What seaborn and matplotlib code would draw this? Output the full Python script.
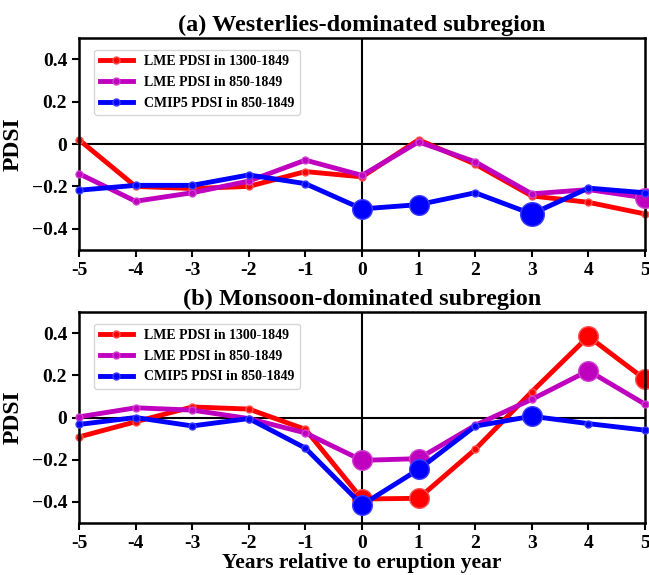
import matplotlib
matplotlib.use('Agg')

import numpy as np
import pandas as pd
import seaborn as sns
import matplotlib.pyplot as plt

# Years relative to eruption
years = [-5, -4, -3, -2, -1, 0, 1, 2, 3, 4, 5]
series_names = ["LME PDSI in 1300-1849", "LME PDSI in 850-1849", "CMIP5 PDSI in 850-1849"]

# (a) Westerlies-dominated subregion
west_lme1300 = [0.02, -0.20, -0.21, -0.20, -0.13, -0.155, 0.02, -0.095, -0.245, -0.275, -0.33]
west_lme850 = [-0.14, -0.27, -0.23, -0.175, -0.076, -0.148, 0.01, -0.084, -0.235, -0.215, -0.254]
west_cmip5 = [-0.218, -0.195, -0.195, -0.146, -0.187, -0.306, -0.286, -0.23, -0.33, -0.208, -0.23]
# significance level (0 = none, 1 = significant, 2 = highly significant)
west_sig_lme1300 = [0, 0, 0, 0, 0, 0, 0, 0, 0, 0, 0]
west_sig_lme850 = [0, 0, 0, 0, 0, 0, 0, 0, 0, 0, 1]
west_sig_cmip5 = [0, 0, 0, 0, 0, 1, 1, 0, 2, 0, 0]

# (b) Monsoon-dominated subregion
mons_lme1300 = [-0.092, -0.02, 0.05, 0.04, -0.056, -0.386, -0.383, -0.151, 0.122, 0.384, 0.181]
mons_lme850 = [0.003, 0.046, 0.035, -0.005, -0.073, -0.203, -0.195, -0.037, 0.086, 0.222, 0.063]
mons_cmip5 = [-0.033, 0.0, -0.04, -0.005, -0.145, -0.414, -0.246, -0.041, 0.006, -0.029, -0.06]
mons_sig_lme1300 = [0, 0, 0, 0, 0, 1, 1, 0, 0, 1, 1]
mons_sig_lme850 = [0, 0, 0, 0, 0, 1, 1, 0, 0, 1, 0]
mons_sig_cmip5 = [0, 0, 0, 0, 0, 1, 1, 0, 1, 0, 0]

colors = ['#ff0000', '#bf00bf', '#0000ff']
edge_colors = ['#ff5050', '#d040d0', '#3c3cff']

plt.rcParams['font.family'] = ['Liberation Serif', 'DejaVu Serif']
plt.rcParams['font.weight'] = 'bold'
plt.rcParams['axes.labelweight'] = 'bold'
plt.rcParams['axes.titleweight'] = 'bold'


def draw_panel(ax, values, sigs, title, show_xlabel):
    ax.axhline(0, color='black', lw=1.5, zorder=1)
    ax.axvline(0, color='black', lw=1.5, zorder=1)
    for i, (vals, sig) in enumerate(zip(values, sigs)):
        df = pd.DataFrame({'year': years, 'pdsi': vals, 'sig': sig})
        sns.lineplot(data=df, x='year', y='pdsi', ax=ax, color=colors[i], lw=3.5,
                     marker='o', markersize=5, markeredgecolor=edge_colors[i],
                     markeredgewidth=1, label=series_names[i], zorder=2 + i, clip_on=False)
        for level, size in [(1, 200), (2, 290)]:
            sub = df[df['sig'] == level]
            if len(sub):
                sns.scatterplot(data=sub, x='year', y='pdsi', ax=ax, color=colors[i],
                                s=size, edgecolor=edge_colors[i], linewidth=1,
                                zorder=2.5 + i, legend=False, clip_on=False)
    ax.set_xlim(-5, 5)
    ax.set_ylim(-0.5, 0.5)
    ax.set_xticks(years)
    ax.set_xticklabels([str(y) for y in years])
    ax.set_yticks([-0.4, -0.2, 0, 0.2, 0.4])
    ax.set_yticklabels(['\u22120.4', '\u22120.2', '0', '0.2', '0.4'])
    ax.tick_params(labelsize=14, width=1.5, length=5)
    for lab in ax.get_xticklabels() + ax.get_yticklabels():
        lab.set_fontweight('bold')
    for sp in ax.spines.values():
        sp.set_linewidth(1.8)
    ax.set_title(title, fontsize=17.5, fontweight='bold', pad=5)
    ax.set_ylabel('PDSI', fontsize=17, fontweight='bold', labelpad=6)
    if show_xlabel:
        ax.set_xlabel('Years relative to eruption year', fontsize=15.5, fontweight='bold', labelpad=1)
    else:
        ax.set_xlabel('')
    leg = ax.legend(loc='upper left', bbox_to_anchor=(0.027, 0.945),
                    prop={'weight': 'bold', 'size': 10}, frameon=True,
                    borderaxespad=0, handlelength=2.4, labelspacing=0.55)
    leg.get_frame().set_linewidth(1)


fig = plt.figure(figsize=(6.49, 5.75), dpi=100)
ax1 = fig.add_axes([0.1217, 0.5652, 0.8721, 0.3687])
ax2 = fig.add_axes([0.1217, 0.0904, 0.8721, 0.367])

draw_panel(ax1, [west_lme1300, west_lme850, west_cmip5],
           [west_sig_lme1300, west_sig_lme850, west_sig_cmip5],
           '(a) Westerlies-dominated subregion', False)
draw_panel(ax2, [mons_lme1300, mons_lme850, mons_cmip5],
           [mons_sig_lme1300, mons_sig_lme850, mons_sig_cmip5],
           '(b) Monsoon-dominated subregion', True)

fig.savefig('out.png', dpi=100)
plt.close()
